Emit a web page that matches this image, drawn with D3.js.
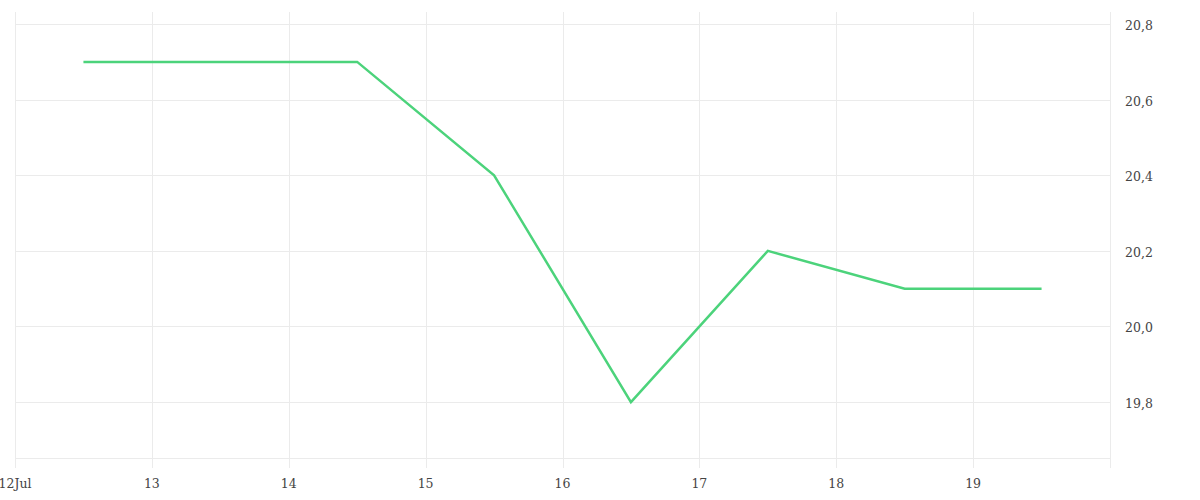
<!DOCTYPE html>
<html><head><meta charset="utf-8">
<script src="https://cdn.jsdelivr.net/npm/d3@7"></script>
<style>body{margin:0;background:#fff}svg{display:block}</style>
</head><body><svg id="c" width="1200" height="500"></svg>
<script>
const dates = ["2024-07-12T12:00","2024-07-13T12:00","2024-07-14T12:00","2024-07-15T12:00","2024-07-16T12:00","2024-07-17T12:00","2024-07-18T12:00","2024-07-19T12:00"];
const values = [20.7,20.7,20.7,20.4,19.8,20.2,20.1,20.1];
const yTicks = [19.8,20.0,20.2,20.4,20.6,20.8];
const xTickLabels = ["12Jul","13","14","15","16","17","18","19"];

(function(){
const svg = d3.select("#c");
const pl=15,pr=1110,pt=12,pb=458;
const x = d3.scaleTime().domain([new Date("2024-07-12T00:00"), new Date("2024-07-20T00:00")]).range([pl,pr]);
const y = d3.scaleLinear().domain([19.652,20.832]).range([pb,pt]);
const parsed = dates.map(d=>new Date(d));
const xTicks = d3.timeDay.range(new Date("2024-07-12T00:00"), new Date("2024-07-20T00:00"));
const grid="#ebebeb";
svg.append("g").selectAll("line").data(xTicks).join("line")
 .attr("x1",d=>Math.round(x(d))+0.5).attr("x2",d=>Math.round(x(d))+0.5)
 .attr("y1",pt).attr("y2",pb+10).attr("stroke",grid);
svg.append("line").attr("x1",pr+0.5).attr("x2",pr+0.5).attr("y1",pt).attr("y2",pb+10).attr("stroke",grid);
svg.append("g").selectAll("line").data(yTicks).join("line")
 .attr("x1",pl).attr("x2",pr).attr("y1",d=>Math.round(y(d))+0.5).attr("y2",d=>Math.round(y(d))+0.5).attr("stroke",grid);
svg.append("line").attr("x1",pl).attr("x2",pr).attr("y1",pb+0.5).attr("y2",pb+0.5).attr("stroke",grid);
const font="DejaVu Serif";
svg.append("g").selectAll("text").data(xTicks).join("text")
 .attr("x",d=>x(d)).attr("y",488).attr("text-anchor","middle")
 .attr("font-family",font).attr("font-size",12.5).attr("fill","#444")
 .text((d,i)=>xTickLabels[i]);
svg.append("g").selectAll("text").data(yTicks).join("text")
 .attr("x",1125).attr("y",d=>y(d)+6).attr("font-family",font).attr("font-size",12.5).attr("fill","#444")
 .text(d=>d3.format(".1f")(d).replace(".",","));
svg.append("path").datum(values).attr("fill","none").attr("stroke","#4cd37b").attr("stroke-width",2.5)
 .attr("d",d3.line().x((d,i)=>x(parsed[i])).y(d=>y(d)));
})();
</script></body></html>
